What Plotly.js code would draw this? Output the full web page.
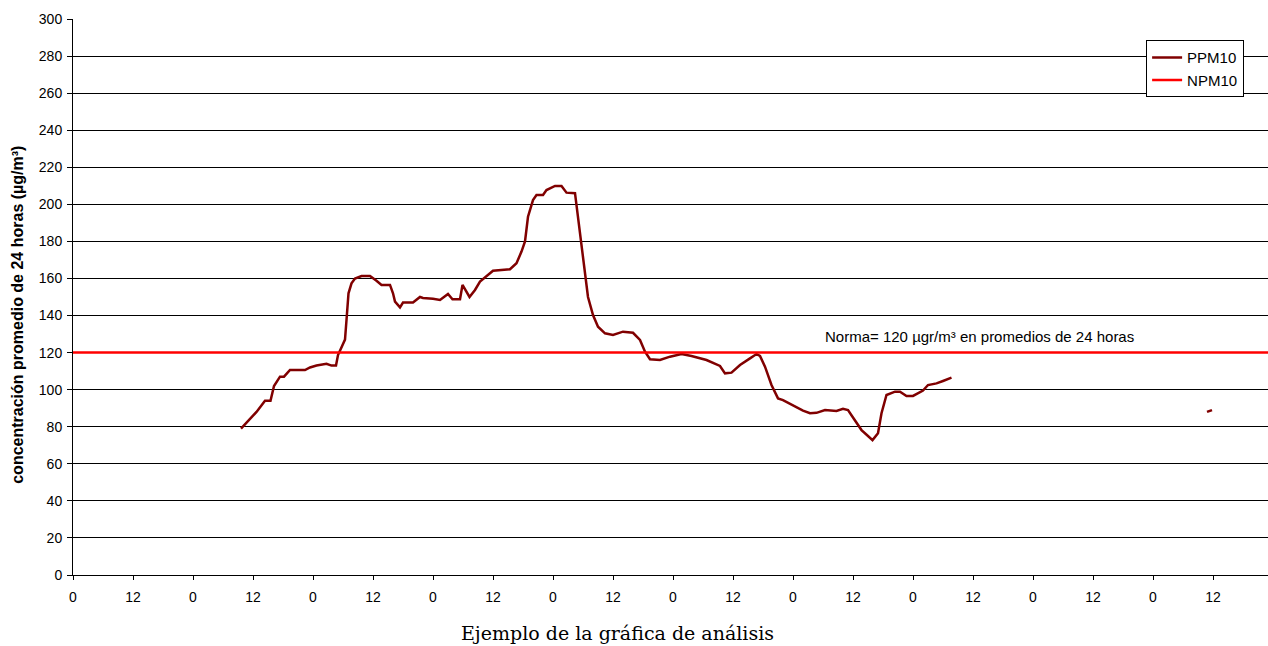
<!DOCTYPE html>
<html>
<head>
<meta charset="utf-8">
<script src="https://cdn.plot.ly/plotly-3.0.1.min.js"></script>
<style>html,body{margin:0;padding:0;background:#fff;}#chart{width:1268px;height:646px;}</style>
</head>
<body>
<div id="chart"></div>
<script>
// Hours since start of the x axis, and 24-h average PM10 (µg/m³)
const hours = [33.6, 36.7, 38.4, 39.5, 40.2, 41.4, 42.2, 43.4, 46.4, 47.4, 48.7, 50.7, 51.7, 52.6, 53.0, 53.5, 54.4, 54.7, 55.1, 55.7, 56.4, 57.7, 59.4, 60.7, 61.7, 63.4, 64.0, 64.4, 65.4, 66.0, 68.0, 69.4, 70.0, 72.0, 73.4, 75.0, 75.9, 77.4, 77.9, 79.3, 80.4, 81.4, 84.0, 87.4, 88.7, 89.7, 90.4, 91.0, 92.0, 92.7, 94.0, 94.7, 96.4, 97.7, 98.7, 100.4, 101.0, 101.7, 102.4, 103.0, 104.0, 105.0, 106.4, 108.0, 110.0, 112.0, 113.4, 114.4, 115.4, 117.4, 119.4, 121.7, 123.7, 126.7, 129.4, 130.4, 131.7, 133.4, 135.4, 136.7, 137.4, 138.4, 139.7, 141.0, 142.0, 144.0, 146.0, 147.4, 148.7, 150.4, 152.7, 154.0, 155.0, 156.0, 157.7, 159.0, 159.9, 161.0, 161.7, 162.7, 164.4, 165.4, 166.7, 168.0, 170.0, 171.0, 172.7, 174.0, 175.7, 200.0, 226.8, 227.8];
const ppm10 = [79, 88, 94, 94, 102, 107, 107, 110.6, 110.6, 112, 113, 114, 113, 113, 118.7, 122, 127, 137.6, 152, 157.4, 160, 161.3, 161.3, 158.8, 156.5, 156.5, 152, 147.5, 144.4, 147, 147, 150, 149.5, 149, 148.4, 151.6, 148.8, 148.8, 156.5, 150, 153.8, 158.3, 164.2, 165, 168.2, 174.5, 180, 193.3, 202.3, 205, 205, 207.7, 209.9, 209.9, 206.3, 206, 193.3, 179, 164.6, 150, 140.3, 134, 130.4, 129.5, 131.3, 130.7, 126.8, 120.5, 116.4, 116, 117.8, 119.2, 118.2, 116, 112.8, 108.8, 109.2, 113.3, 116.9, 119.2, 118.2, 112.4, 102.5, 95.3, 94.4, 91.7, 88.7, 87.3, 87.5, 89, 88.5, 89.7, 89, 85, 78.2, 75, 72.8, 76.5, 87.3, 97.1, 98.9, 98.9, 96.6, 96.6, 99.5, 102.5, 103.4, 104.7, 106.5, null, 88, 89];
const normHours = [0, 239];
const npm10 = [120, 120];
const tickHours = [0, 12, 24, 36, 48, 60, 72, 84, 96, 108, 120, 132, 144, 156, 168, 180, 192, 204, 216, 228];
const tickLabels = ["0", "12", "0", "12", "0", "12", "0", "12", "0", "12", "0", "12", "0", "12", "0", "12", "0", "12", "0", "12"];
const yTitle = "concentración promedio de 24 horas (µg/m³)";
const xTitle = "Ejemplo de la gráfica de análisis";
const normText = "Norma= 120 µgr/m³ en promedios de 24 horas";

const sans = "Liberation Sans, Arial, sans-serif";

const traces = [
  {x: hours, y: ppm10, name: "PPM10", type: "scatter", mode: "lines",
   line: {color: "#800000", width: 2.5}, connectgaps: false},
  {x: normHours, y: npm10, name: "NPM10", type: "scatter", mode: "lines",
   line: {color: "#ff0000", width: 2.5}}
];

const layout = {
  width: 1268, height: 646,
  margin: {l: 73, r: 0, t: 19, b: 71},
  paper_bgcolor: "#ffffff", plot_bgcolor: "#ffffff",
  font: {family: sans, size: 14, color: "#000"},
  showlegend: true,
  legend: {x: 0.898, y: 0.962, xanchor: "left", yanchor: "top",
    bgcolor: "#ffffff", bordercolor: "#000", borderwidth: 1,
    font: {size: 15, color: "#000", family: sans}, itemwidth: 30},
  xaxis: {range: [0, 239], showgrid: false, zeroline: false,
    tickmode: "array", tickvals: tickHours, ticktext: tickLabels,
    ticks: "outside", ticklen: 4, tickcolor: "#000", tickwidth: 1,
    ticklabelstandoff: 5,
    showline: true, linecolor: "#000", linewidth: 1,
    tickfont: {size: 14, color: "#000", family: sans}},
  yaxis: {range: [0, 300], dtick: 20, tick0: 0, showgrid: true,
    gridcolor: "#000", gridwidth: 1, zeroline: false,
    ticks: "outside", ticklen: 5, tickcolor: "#000",
    ticklabelstandoff: 2,
    showline: true, linecolor: "#000", linewidth: 1,
    tickfont: {size: 14, color: "#000", family: sans}},
  annotations: [
    {text: yTitle, xref: "paper", yref: "paper", x: 0, y: 0.468, xshift: -55,
     textangle: -90, showarrow: false, xanchor: "center", yanchor: "middle",
     font: {size: 16, color: "#000", family: sans, weight: "bold"}},
    {text: xTitle, xref: "paper", yref: "paper", x: (617 - 73) / 1195, y: 0, yshift: -58,
     showarrow: false, xanchor: "center", yanchor: "middle",
     font: {size: 19, color: "#000", family: "DejaVu Serif, serif"}},
    {text: normText, xref: "x", yref: "y", x: 181.2, y: 120, yshift: 16,
     showarrow: false, xanchor: "center", yanchor: "middle",
     font: {size: 15, color: "#000", family: sans}}
  ]
};

Plotly.newPlot("chart", traces, layout, {displayModeBar: false, staticPlot: true});
</script>
</body>
</html>
